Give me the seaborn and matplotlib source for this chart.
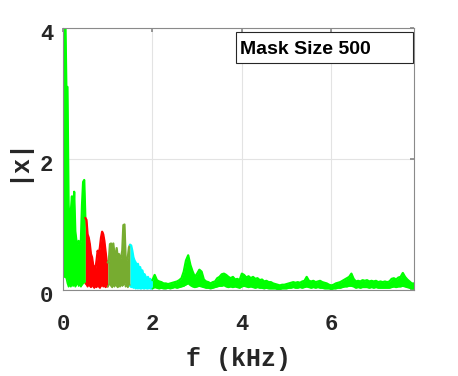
import numpy as np
import pandas as pd
import matplotlib
matplotlib.use("Agg")
import matplotlib.pyplot as plt
import matplotlib.transforms as mtransforms
from matplotlib.patches import Rectangle
import seaborn as sns

# ---------------------------------------------
# spectrum magnitude
# low band: 0 .. 2 kHz every 0.025 kHz
# ---------------------------------------------
upper_lo = [0.50, 4.30, 4.30, 3.10, 3.10, 1.30, 1.00, 1.20, 1.43, 1.05,
            1.50, 0.90, 0.75, 0.70, 0.75, 0.70, 0.75, 1.30, 1.65, 1.68,
            1.10, 1.07, 0.85, 0.80, 0.70, 0.55, 0.50, 0.38, 0.35, 0.32,
            0.45, 0.60, 0.55, 0.65, 0.80, 0.89, 0.85, 0.75, 0.60, 0.45,
            0.42, 0.45, 0.70, 0.71, 0.55, 0.71, 0.55, 0.50, 0.64, 0.50,
            0.55, 0.48, 0.50, 0.60, 0.99, 1.00, 0.50, 0.45, 0.50, 0.65,
            0.69, 0.68, 0.60, 0.50, 0.45, 0.42, 0.38, 0.40, 0.33, 0.35,
            0.28, 0.30, 0.22, 0.24, 0.20, 0.18, 0.20, 0.15, 0.17, 0.14,
            0.15]
lower_lo = [0.20, 0.20, 0.20, 0.18, 0.10, 0.05, 0.10, 0.05, 0.12, 0.06,
            0.10, 0.05, 0.08, 0.12, 0.06, 0.10, 0.05, 0.08, 0.10, 0.15,
            0.10, 0.08, 0.05, 0.10, 0.06, 0.04, 0.08, 0.05, 0.03, 0.06,
            0.04, 0.08, 0.05, 0.03, 0.06, 0.08, 0.05, 0.07, 0.04, 0.06,
            0.05, 0.08, 0.10, 0.06, 0.04, 0.09, 0.05, 0.10, 0.06, 0.04,
            0.08, 0.05, 0.10, 0.06, 0.08, 0.12, 0.05, 0.08, 0.04, 0.10,
            0.06, 0.04, 0.05, 0.03, 0.04, 0.02, 0.03, 0.02, 0.03, 0.02,
            0.02, 0.03, 0.02, 0.02, 0.03, 0.02, 0.02, 0.03, 0.02, 0.02,
            0.02]

# high band: 2.05 .. 7.85 kHz every 0.05 kHz
upper_hi = [0.23, 0.15, 0.13, 0.12, 0.10, 0.10, 0.09, 0.10, 0.11, 0.12,
            0.13, 0.15, 0.18, 0.28, 0.45, 0.53, 0.38, 0.28, 0.20, 0.25,
            0.31, 0.28, 0.16, 0.13, 0.12, 0.10, 0.12, 0.13, 0.18, 0.20,
            0.24, 0.25, 0.23, 0.20, 0.18, 0.20, 0.16, 0.17, 0.15, 0.25,
            0.23, 0.19, 0.21, 0.18, 0.20, 0.17, 0.18, 0.15, 0.16, 0.13,
            0.14, 0.12, 0.12, 0.10, 0.09, 0.08, 0.07, 0.08, 0.08, 0.09,
            0.10, 0.11, 0.12, 0.11, 0.12, 0.11, 0.13, 0.14, 0.20, 0.14,
            0.13, 0.14, 0.12, 0.13, 0.14, 0.12, 0.11, 0.10, 0.08, 0.07,
            0.08, 0.10, 0.11, 0.12, 0.14, 0.16, 0.18, 0.20, 0.25, 0.17,
            0.13, 0.14, 0.13, 0.15, 0.14, 0.15, 0.13, 0.14, 0.13, 0.14,
            0.12, 0.13, 0.12, 0.13, 0.12, 0.13, 0.17, 0.18, 0.16, 0.19,
            0.20, 0.26, 0.20, 0.16, 0.13, 0.10, 0.10]
lower_hi = [0.04, 0.03, 0.02, 0.03, 0.02, 0.02, 0.03, 0.02, 0.03, 0.04,
            0.03, 0.04, 0.05, 0.06, 0.08, 0.10, 0.07, 0.05, 0.04, 0.05,
            0.06, 0.05, 0.04, 0.03, 0.03, 0.02, 0.03, 0.04, 0.05, 0.06,
            0.06, 0.07, 0.05, 0.04, 0.05, 0.04, 0.05, 0.04, 0.03, 0.05,
            0.06, 0.05, 0.04, 0.05, 0.04, 0.03, 0.04, 0.03, 0.03, 0.02,
            0.03, 0.02, 0.02, 0.02, 0.02, 0.01, 0.01, 0.02, 0.02, 0.02,
            0.03, 0.03, 0.04, 0.03, 0.03, 0.04, 0.03, 0.04, 0.05, 0.04,
            0.03, 0.04, 0.03, 0.04, 0.03, 0.03, 0.02, 0.02, 0.02, 0.01,
            0.02, 0.02, 0.03, 0.03, 0.04, 0.05, 0.05, 0.06, 0.06, 0.05,
            0.03, 0.04, 0.03, 0.04, 0.04, 0.04, 0.03, 0.04, 0.03, 0.04,
            0.03, 0.03, 0.03, 0.03, 0.03, 0.03, 0.04, 0.05, 0.04, 0.05,
            0.05, 0.06, 0.05, 0.04, 0.03, 0.02, 0.02]

band_edges = [0.0, 0.5, 1.0, 1.5, 2.0, 7.85]
band_colors = ["#00ff00", "#ff0000", "#77ac30", "#00ffff", "#00ff00"]

legend_text = "Mask Size 500"

# ---------------------------------------------
# build a frame
# ---------------------------------------------
f_lo = 0.025 * np.arange(len(upper_lo))
f_hi = 2.05 + 0.05 * np.arange(len(upper_hi))
df = pd.DataFrame({
    "f": np.concatenate([f_lo, f_hi]),
    "upper": upper_lo + upper_hi,
    "lower": lower_lo + lower_hi,
})

# ---------------------------------------------
# plot
# ---------------------------------------------
sns.set_theme(style="white")
plt.rcParams["font.family"] = ["Liberation Mono", "DejaVu Sans Mono"]

fig = plt.figure(figsize=(4.58, 3.76), dpi=100)
ax = fig.add_axes([63 / 458, 86 / 376, 351 / 458, 262 / 376])

for i, col in enumerate(band_colors):
    lo, hi = band_edges[i], band_edges[i + 1]
    seg = df[(df["f"] >= lo - 1e-9) & (df["f"] <= hi + 1e-9)]
    ax.fill_between(seg["f"], seg["lower"], seg["upper"], color=col, lw=0)
    sns.lineplot(data=seg, x="f", y="upper", color=col, lw=1.6, ax=ax)
    sns.lineplot(data=seg, x="f", y="lower", color=col, lw=1.2, ax=ax)

ax.set_xlim(0, 7.85)
ax.set_ylim(0, 4)
ax.set_xticks([0, 2, 4, 6])
ax.set_yticks([0, 2, 4])
ax.grid(True, color="#e3e3e3", lw=0.8)
ax.set_axisbelow(True)

for s in ax.spines.values():
    s.set_color("#8a8a8a")
    s.set_linewidth(0.8)

ax.tick_params(axis="both", direction="in", length=3, color="#8a8a8a",
               labelsize=16, labelcolor="#262626", top=True, right=True)
ax.tick_params(axis="x", pad=17)
ax.tick_params(axis="y", pad=7)
for lab in ax.get_xticklabels() + ax.get_yticklabels():
    lab.set_fontweight("bold")

# nudge y tick labels down a few pixels, like the reference
shift = mtransforms.ScaledTranslation(0, -4 / 100, fig.dpi_scale_trans)
for lab in ax.get_yticklabels():
    lab.set_transform(lab.get_transform() + shift)

ax.set_xlabel("f (kHz)", fontsize=18, fontweight="bold", color="#262626", labelpad=9)
ax.set_ylabel("|x|", fontsize=18, fontweight="bold", color="#262626", labelpad=8)

# legend-like box
ax.add_patch(Rectangle((0.493, 0.866), 0.504, 0.119, transform=ax.transAxes,
                       facecolor="white", edgecolor="#262626", lw=0.8, zorder=5))
ax.text(0.503, 0.918, legend_text, transform=ax.transAxes, ha="left", va="center",
        fontsize=14, fontweight="bold", family="Liberation Sans", color="black", zorder=6)

plt.savefig("out.png", dpi=100)
